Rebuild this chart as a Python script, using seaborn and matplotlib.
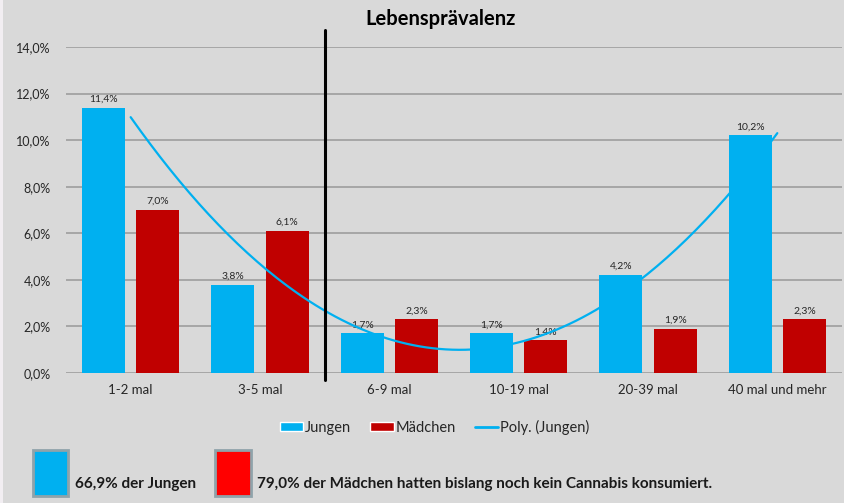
import numpy as np
import pandas as pd
import matplotlib
matplotlib.use('Agg')
import matplotlib.pyplot as plt
from matplotlib.patches import Patch, Rectangle
from matplotlib.lines import Line2D
import seaborn as sns

# data
categories = ['1-2 mal', '3-5 mal', '6-9 mal', '10-19 mal', '20-39 mal', '40 mal und mehr']
jungen = [11.4, 3.8, 1.7, 1.7, 4.2, 10.2]
maedchen = [7.0, 6.1, 2.3, 1.4, 1.9, 2.3]
never_jungen = 66.9
never_maedchen = 79.0

blue = '#00B0F0'
darkred = '#C00000'
bg = '#D9D9D9'

df = pd.DataFrame({
    'Kategorie': categories * 2,
    'Wert': jungen + maedchen,
    'Gruppe': ['Jungen'] * 6 + ['Mädchen'] * 6,
})

sns.set_theme(style='white')
plt.rcParams['font.family'] = ['Lato', 'DejaVu Sans']

fig = plt.figure(figsize=(8.44, 5.03), dpi=100, facecolor=bg)
ax = fig.add_axes([0.0782, 0.2584, 0.9194, 0.6482])
ax.set_facecolor(bg)

sns.barplot(data=df, x='Kategorie', y='Wert', hue='Gruppe', order=categories,
            palette={'Jungen': blue, 'Mädchen': darkred}, width=0.84, gap=0.21,
            saturation=1, ax=ax, legend=False, zorder=3, linewidth=0, edgecolor='none')

# value labels
for cont in ax.containers:
    labels = [f'{v:.1f}'.replace('.', ',') + '%' for v in cont.datavalues]
    ax.bar_label(cont, labels=labels, padding=3, fontsize=7.5, color='#262626')

# polynomial trend line (order 2) for Jungen
xs = np.arange(len(jungen))
coef = np.polyfit(xs, jungen, 2)
xf = np.linspace(0, len(jungen) - 1, 200)
ax.plot(xf, np.polyval(coef, xf), color=blue, lw=1.6, zorder=4)

ax.set_ylim(0, 14)
ax.set_xlim(-0.5, len(categories) - 0.5)
ax.set_yticks(np.arange(0, 15, 2))
ax.set_yticklabels([f'{v:.1f}'.replace('.', ',') + '%' for v in np.arange(0, 15, 2)], fontsize=9, color='#262626')
ax.tick_params(axis='x', labelsize=9.5, colors='#262626', length=0, pad=8)
ax.tick_params(axis='y', length=0, pad=11)
ax.set_xlabel('')
ax.set_ylabel('')
for y in np.arange(0, 15, 2):
    ax.axhline(y, color='#9E9E9E', lw=1.2, zorder=1)
for s in ax.spines.values():
    s.set_visible(False)

# separator line
ax.axvline(1.5, ymin=-0.021, ymax=1.052, color='black', lw=2.2, clip_on=False, zorder=5)

fig.text(0.522, 0.963, 'Lebensprävalenz', ha='center', va='center', fontsize=14.5, fontweight='bold', color='black')

handles = [Patch(facecolor=blue, label='Jungen'),
           Patch(facecolor=darkred, label='Mädchen'),
           Line2D([0], [0], color=blue, lw=2, label='Poly. (Jungen)')]
fig.legend(handles=handles, loc='center', bbox_to_anchor=(0.515, 0.151), ncol=3, frameon=False,
           fontsize=10.5, handlelength=1.6, handleheight=0.6, handletextpad=0.15, columnspacing=1.3)

# thin light strip on the left edge
fig.patches.append(Rectangle((0, 0), 3 / 844, 1, transform=fig.transFigure,
                             facecolor='#F2EEF2', edgecolor='none'))

# bottom boxes
fig.patches.append(Rectangle((33 / 844, 1 - 496 / 503), 35 / 844, 46 / 503, transform=fig.transFigure,
                             facecolor=blue, edgecolor='#8FA3AA', lw=2))
fig.patches.append(Rectangle((215 / 844, 1 - 496 / 503), 36 / 844, 46 / 503, transform=fig.transFigure,
                             facecolor='#FF0000', edgecolor='#8FA3AA', lw=2))
fig.text(75 / 844, 1 - 488 / 503, f'{never_jungen:.1f}'.replace('.', ',') + '% der Jungen',
         fontsize=11, fontweight='bold', va='baseline', color='#1a1a1a')
fig.text(257 / 844, 1 - 488 / 503, f'{never_maedchen:.1f}'.replace('.', ',') + '% der Mädchen hatten bislang noch kein Cannabis konsumiert.',
         fontsize=11, fontweight='bold', va='baseline', color='#1a1a1a')

fig.savefig('out.png', dpi=100, facecolor=bg)
